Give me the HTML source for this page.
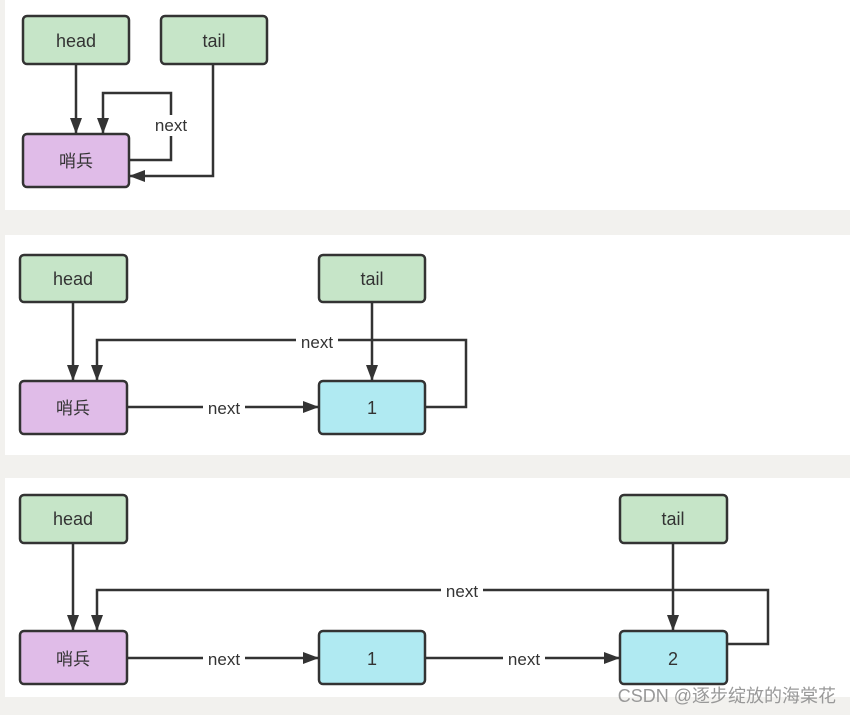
<!DOCTYPE html>
<html><head><meta charset="utf-8"><style>
body{margin:0;width:850px;height:715px;background:#f2f1ee;overflow:hidden}
svg{display:block}
text{font-family:"Liberation Sans","Noto Sans CJK SC",sans-serif;fill:#333}
</style></head><body>
<svg width="850" height="715" viewBox="0 0 850 715">
<defs><marker id="a" markerWidth="16" markerHeight="14" refX="15" refY="7" orient="auto" markerUnits="userSpaceOnUse"><path d="M0,1 L16,7 L0,13 z" fill="#333"/></marker></defs>
<rect x="5" y="0" width="845" height="210" fill="#fff"/>
<rect x="5" y="235" width="845" height="220" fill="#fff"/>
<rect x="5" y="478" width="845" height="219" fill="#fff"/>
<g stroke="#333" stroke-width="2.5" fill="none">
<path d="M76 64 V133" marker-end="url(#a)"/>
<path d="M129 160 H171 V93 H103 V133" marker-end="url(#a)"/>
<path d="M213 64 V176 H130" marker-end="url(#a)"/>
<path d="M73 302 V380" marker-end="url(#a)"/>
<path d="M372 302 V380" marker-end="url(#a)"/>
<path d="M127 407 H318" marker-end="url(#a)"/>
<path d="M425 407 H466 V340 H97 V380" marker-end="url(#a)"/>
<path d="M73 543 V630" marker-end="url(#a)"/>
<path d="M673 543 V630" marker-end="url(#a)"/>
<path d="M127 658 H318" marker-end="url(#a)"/>
<path d="M425 658 H619" marker-end="url(#a)"/>
<path d="M727 644 H768 V590 H97 V630" marker-end="url(#a)"/>
</g>
<g stroke="#333" stroke-width="2.5">
<rect x="23" y="16" width="106" height="48" rx="4" fill="#c6e5c8"/>
<rect x="161" y="16" width="106" height="48" rx="4" fill="#c6e5c8"/>
<rect x="23" y="134" width="106" height="53" rx="4" fill="#e0bce8"/>
<rect x="20" y="255" width="107" height="47" rx="4" fill="#c6e5c8"/>
<rect x="319" y="255" width="106" height="47" rx="4" fill="#c6e5c8"/>
<rect x="20" y="381" width="107" height="53" rx="4" fill="#e0bce8"/>
<rect x="319" y="381" width="106" height="53" rx="4" fill="#b0eaf2"/>
<rect x="20" y="495" width="107" height="48" rx="4" fill="#c6e5c8"/>
<rect x="620" y="495" width="107" height="48" rx="4" fill="#c6e5c8"/>
<rect x="20" y="631" width="107" height="53" rx="4" fill="#e0bce8"/>
<rect x="319" y="631" width="106" height="53" rx="4" fill="#b0eaf2"/>
<rect x="620" y="631" width="107" height="53" rx="4" fill="#b0eaf2"/>
</g>
<g font-size="18" text-anchor="middle">
<text x="76" y="47">head</text><text x="214" y="47">tail</text><text x="76" y="167" font-size="17">哨兵</text>
<text x="73" y="285">head</text><text x="372" y="285">tail</text><text x="73" y="414" font-size="17">哨兵</text><text x="372" y="414">1</text>
<text x="73" y="525">head</text><text x="673" y="525">tail</text><text x="73" y="665" font-size="17">哨兵</text><text x="372" y="665">1</text><text x="673" y="665">2</text>
</g>
<g font-size="17" text-anchor="middle">
<rect x="150" y="115" width="42" height="21" fill="#fff"/><text x="171" y="131">next</text>
<rect x="203" y="398" width="42" height="19" fill="#fff"/><text x="224" y="414">next</text>
<rect x="296" y="332" width="42" height="19" fill="#fff"/><text x="317" y="348">next</text>
<rect x="203" y="649" width="42" height="19" fill="#fff"/><text x="224" y="665">next</text>
<rect x="503" y="649" width="42" height="19" fill="#fff"/><text x="524" y="665">next</text>
<rect x="441" y="582" width="42" height="19" fill="#fff"/><text x="462" y="597">next</text>
</g>
<text x="836" y="702" font-size="18" text-anchor="end" style="fill:#999">CSDN @逐步绽放的海棠花</text>
</svg>
</body></html>
